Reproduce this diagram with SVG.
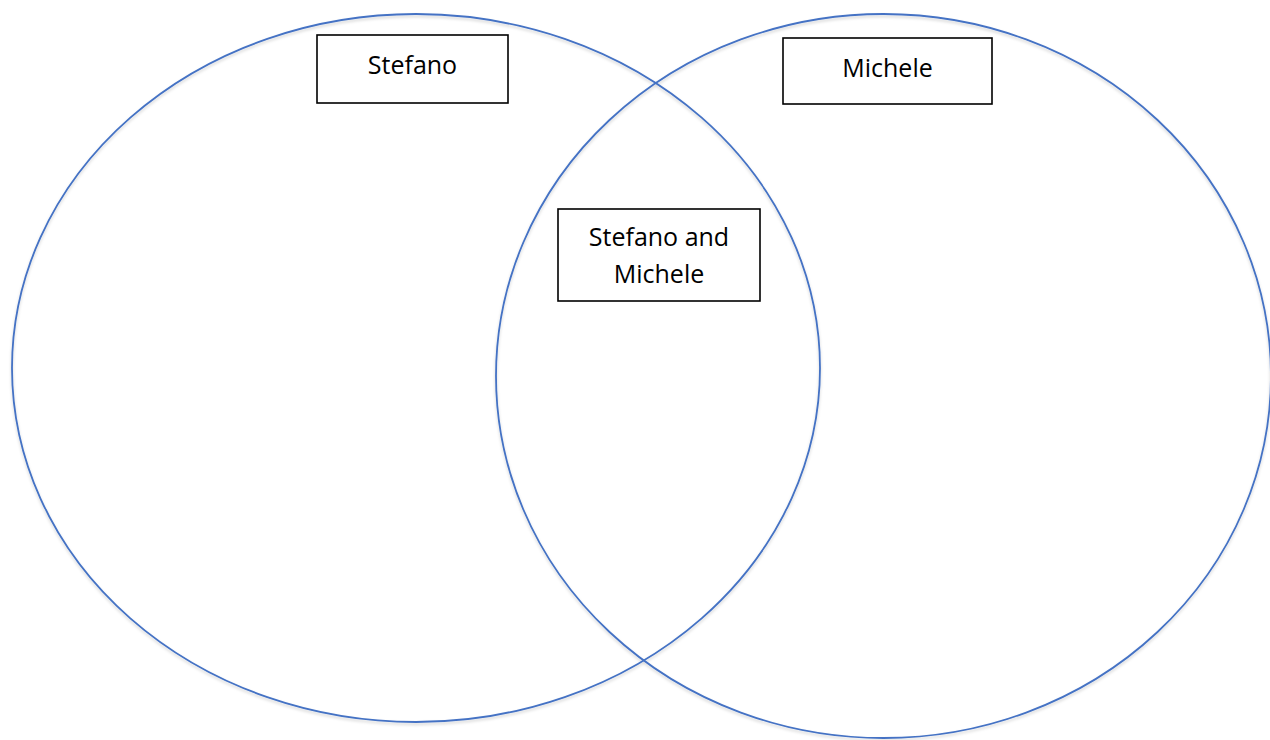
<svg xmlns="http://www.w3.org/2000/svg" width="1270" height="740" viewBox="0 0 1270 740">
  <defs>
    <filter id="sh" x="-5%" y="-5%" width="110%" height="110%">
      <feDropShadow dx="0" dy="2" stdDeviation="1.5" flood-color="#000" flood-opacity="0.18"/>
    </filter>
  </defs>
  <style>
    .circle { fill: none; stroke: #4472C4; stroke-width: 1.8; }
    .box { fill: #fff; stroke: #000; stroke-width: 1.6; }
    .label { font-family: "Open Sans", "Liberation Sans", sans-serif; font-size: 25px; fill: #000; text-anchor: middle; }
  </style>
  <rect width="1270" height="740" fill="#fff"/>
  <g id="sets" filter="url(#sh)">
    <ellipse id="set-stefano" class="circle" cx="416" cy="368" rx="404" ry="354"/>
    <ellipse id="set-michele" class="circle" cx="883.5" cy="376" rx="387.5" ry="362"/>
  </g>
  <g id="connectors"></g>
  <g id="node-stefano">
    <rect class="box" x="317" y="35" width="191" height="68"/>
    <text class="label" x="412.5" y="74">Stefano</text>
  </g>
  <g id="node-michele">
    <rect class="box" x="783" y="38" width="209" height="66"/>
    <text class="label" x="887.5" y="77">Michele</text>
  </g>
  <g id="node-both">
    <rect class="box" x="558" y="209" width="202" height="92"/>
    <text class="label" x="659" y="246">Stefano and</text>
    <text class="label" x="659" y="283">Michele</text>
  </g>
</svg>
